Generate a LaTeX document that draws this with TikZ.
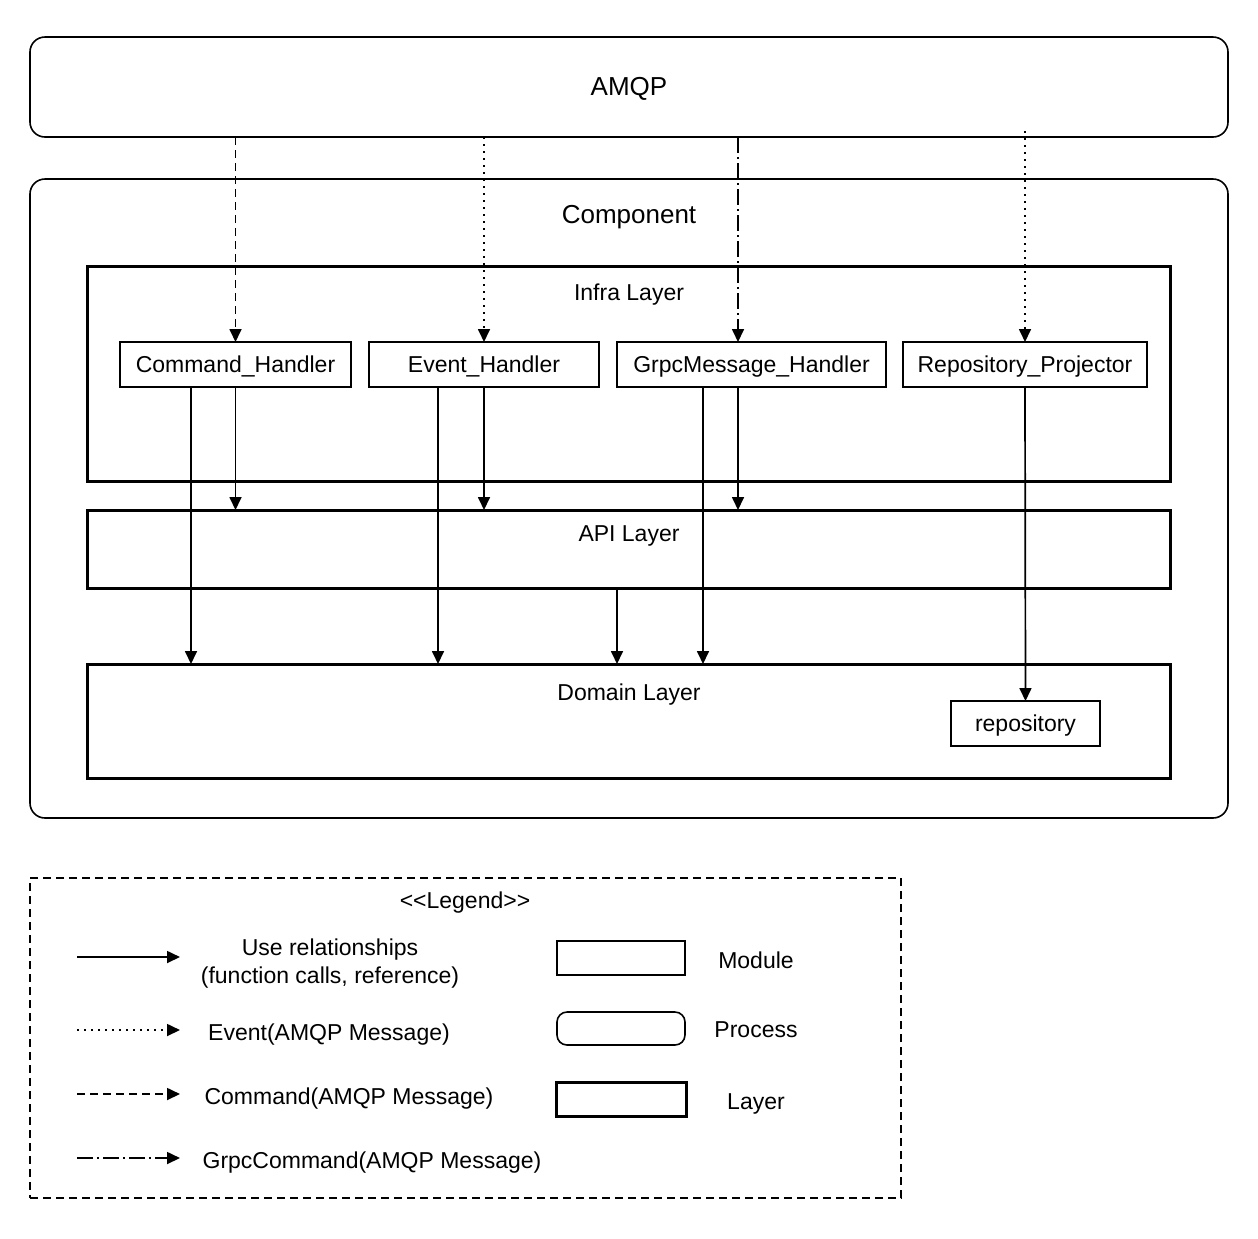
\documentclass[tikz,border=0pt]{standalone}
\usepackage{fontspec}
\setmainfont{Liberation Sans}
\usetikzlibrary{arrows.meta}
\begin{document}
\begin{tikzpicture}[x=0.5pt,y=-0.5pt,
  every node/.style={inner sep=0pt,outer sep=0pt},
  txt/.style={font=\fontsize{11.5}{14}\selectfont,text height=0.82em,text depth=0pt},
  multitxt/.style={font=\fontsize{11.5}{14}\selectfont,align=center},
  bigtxt/.style={font=\fontsize{13}{15.6}\selectfont,text height=0.82em,text depth=0pt},
  process/.style={draw,line width=0.8pt,rounded corners=7.5pt},
  module/.style={draw,line width=0.8pt,txt},
  layerbox/.style={draw,line width=1.5pt},
  tip/.style={-{Triangle[length=6.5pt,width=6pt]}},
  usearrow/.style={tip,line width=0.85pt},
  evarrow/.style={tip,line width=0.85pt,dash pattern=on 1pt off 2.5pt},
  cmdarrow/.style={tip,line width=0.85pt,dash pattern=on 4pt off 2.5pt},
  grpcarrow/.style={tip,line width=0.85pt,dash pattern=on 8pt off 2pt on 1pt off 2pt},
]
\useasboundingbox (0,0) rectangle (1258,1238);

% processes
\node[process,minimum width=599pt,minimum height=50pt,bigtxt] (amqp) at (629,87) {AMQP};
\node[process,minimum width=599pt,minimum height=319.5pt] (comp) at (629,498.5) {};
\node[bigtxt] (compl) at (629,215) {Component};

% layers
\node[layerbox,minimum width=541.5pt,minimum height=107.5pt] (infra) at (628.5,373.5) {};
\node[txt] (infral) at (629,292) {Infra Layer};
\node[layerbox,minimum width=541.5pt,minimum height=39pt] (api) at (628.5,549) {};
\node[txt] (apil) at (629,533) {API Layer};
\node[layerbox,minimum width=541.5pt,minimum height=57pt] (dom) at (628.5,721) {};
\node[txt] (doml) at (629,692) {Domain Layer};

% modules
\node[module,minimum width=115.5pt,minimum height=22.5pt] (ch) at (235.5,364.5) {Command\_Handler};
\node[module,minimum width=115pt,minimum height=22.5pt] (eh) at (484,364.5) {Event\_Handler};
\node[module,minimum width=134.5pt,minimum height=22.5pt] (gh) at (751.5,364.5) {GrpcMessage\_Handler};
\node[module,minimum width=122pt,minimum height=22.5pt] (rp) at (1025,364.5) {Repository\_Projector};
\node[module,minimum width=74.5pt,minimum height=22.5pt] (repo) at (1025.5,723.5) {repository};

% AMQP messages
\draw[cmdarrow] (ch.north |- amqp.south) -- (ch.north);
\draw[evarrow] (eh.north |- amqp.south) -- (eh.north);
\draw[grpcarrow] ([xshift=-6.75pt]gh.north |- amqp.south) -- ([xshift=-6.75pt]gh.north);
\draw[evarrow] ([yshift=3pt]rp.north |- amqp.south) -- (rp.north);

% use relationships
\draw[usearrow] ([xshift=-22.25pt]ch.south) -- ([xshift=-22.25pt]ch.south |- dom.north);
\draw[usearrow] (ch.south) -- (ch.south |- api.north);
\draw[usearrow] ([xshift=-23pt]eh.south) -- ([xshift=-23pt]eh.south |- dom.north);
\draw[usearrow] (eh.south) -- (eh.south |- api.north);
\draw[usearrow] ([xshift=-24.25pt]gh.south) -- ([xshift=-24.25pt]gh.south |- dom.north);
\draw[usearrow] ([xshift=-6.75pt]gh.south) -- ([xshift=-6.75pt]gh.south |- api.north);
\draw[usearrow] ([xshift=-5.75pt]api.south) -- ([xshift=-5.75pt]api.south |- dom.north);
\draw[usearrow] (rp.south) -- (repo.north);

% legend
\node[draw,line width=0.8pt,dash pattern=on 4pt off 2.5pt,minimum width=435.5pt,minimum height=160pt] (leg) at (465.5,1038) {};
\node[txt] (legt) at (465,900) {<{}<Legend>{}>};

\coordinate (l1a) at (77,957);  \coordinate (l1b) at (180,957);
\coordinate (l2a) at (77,1030); \coordinate (l2b) at (180,1030);
\coordinate (l3a) at (77,1094); \coordinate (l3b) at (180,1094);
\coordinate (l4a) at (77,1158); \coordinate (l4b) at (180,1158);
\draw[usearrow] (l1a) -- (l1b);
\draw[evarrow] (l2a) -- (l2b);
\draw[cmdarrow] (l3a) -- (l3b);
\draw[grpcarrow] (l4a) -- (l4b);

\node[multitxt] (t1) at (330,964) {Use relationships\\(function calls, reference)};
\node[txt] (t2) at (329,1032) {Event(AMQP Message)};
\node[txt] (t3) at (349,1096) {Command(AMQP Message)};
\node[txt] (t4) at (372,1160) {GrpcCommand(AMQP Message)};

\node[draw,line width=0.8pt,minimum width=64pt,minimum height=17pt] (smod) at (621,958) {};
\node[txt] (tmod) at (756,960) {Module};
\node[process,rounded corners=5pt,minimum width=64pt,minimum height=16.5pt] (sproc) at (621,1028.5) {};
\node[txt] (tproc) at (756,1029) {Process};
\node[layerbox,minimum width=65pt,minimum height=17pt] (slay) at (621,1099) {};
\node[txt] (tlay) at (756,1101) {Layer};
\end{tikzpicture}
\end{document}
